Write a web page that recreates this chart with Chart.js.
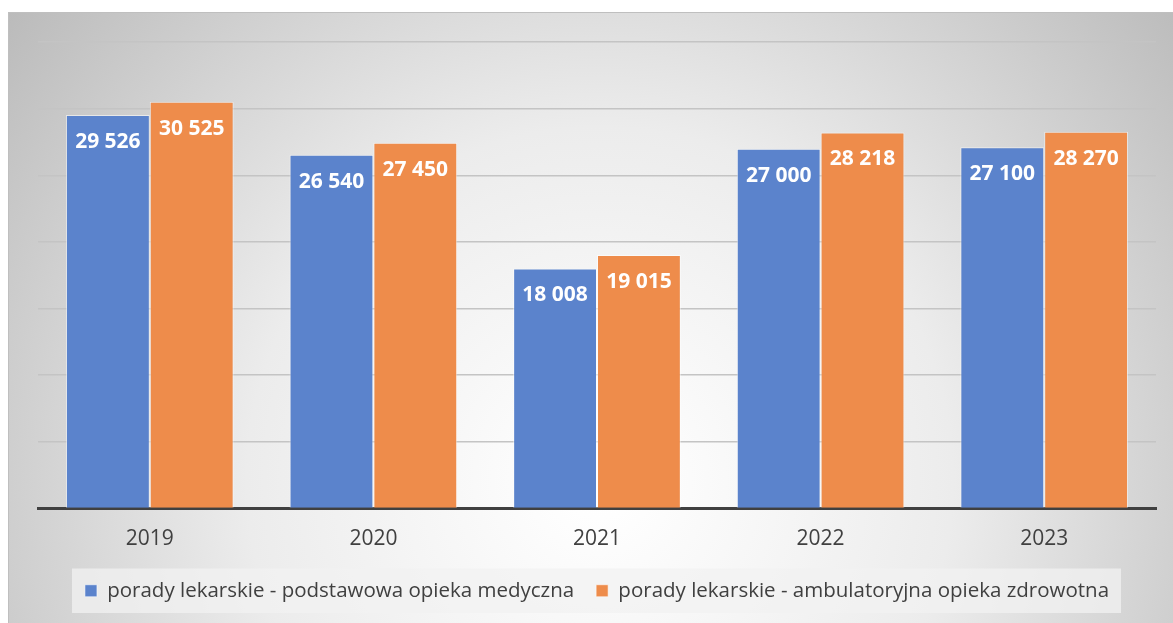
<!DOCTYPE html>
<html>
<head>
<meta charset="utf-8">
<script src="https://cdn.jsdelivr.net/npm/chart.js@4"></script>
<style>
  html, body { margin: 0; padding: 0; background: #fff; }
  #wrap { width: 1173px; height: 623px; }
</style>
</head>
<body>
<div id="wrap"><canvas id="chart"></canvas></div>
<script>
const years = ["2019", "2020", "2021", "2022", "2023"];
const podstawowa = [29526, 26540, 18008, 27000, 27100];
const ambulatoryjna = [30525, 27450, 19015, 28218, 28270];
const seriesNames = [
    "porady lekarskie - podstawowa opieka medyczna",
    "porady lekarskie - ambulatoryjna opieka zdrowotna"
];

const fmt = v => String(v).replace(/\B(?=(\d{3})+(?!\d))/g, " ");

// gray radial background + legend panel
const backdrop = {
    id: "backdrop",
    beforeDraw(chart) {
        const ctx = chart.ctx;
        const w = chart.width, h = chart.height;
        ctx.save();
        ctx.fillStyle = "#ffffff";
        ctx.fillRect(0, 0, w, h);
        const g = ctx.createRadialGradient(600, 480, 20, 600, 480, 760);
        g.addColorStop(0, "#ffffff");
        g.addColorStop(0.45, "#ececec");
        g.addColorStop(1, "#bababa");
        ctx.fillStyle = g;
        ctx.fillRect(8, 12, w - 8, h - 12);
        ctx.strokeStyle = "#bfbfbf";
        ctx.lineWidth = 1;
        ctx.strokeRect(8.5, 12.5, w, h);

        const boxes = chart.legend && chart.legend.legendHitBoxes;
        if (boxes && boxes.length) {
            const l = Math.min(...boxes.map(b => b.left)) - 13;
            const r = Math.max(...boxes.map(b => b.left + b.width)) + 12;
            const t = Math.min(...boxes.map(b => b.top)) - 12;
            const bt = Math.max(...boxes.map(b => b.top + b.height)) + 12;
            ctx.fillStyle = "rgba(242,242,242,0.75)";
            ctx.fillRect(l, t, r - l, bt - t);
        }
        ctx.restore();
    }
};

const valueLabels = {
    id: "valueLabels",
    afterDatasetsDraw(chart) {
        const ctx = chart.ctx;
        ctx.save();
        ctx.fillStyle = "#ffffff";
        ctx.font = "bold 21px 'Open Sans'";
        ctx.textAlign = "center";
        ctx.textBaseline = "middle";
        chart.data.datasets.forEach((ds, i) => {
            chart.getDatasetMeta(i).data.forEach((bar, j) => {
                ctx.fillText(fmt(ds.data[j]), bar.x, bar.y + 27);
            });
        });
        ctx.restore();
    }
};

new Chart("chart", {
    type: "bar",
    data: {
        labels: years,
        datasets: [{
            label: seriesNames[0],
            data: podstawowa,
            backgroundColor: "#5b83cc",
            borderColor: "rgba(255,255,255,0.55)",
            borderWidth: 1
        }, {
            label: seriesNames[1],
            data: ambulatoryjna,
            backgroundColor: "#ee8c4b",
            borderColor: "rgba(255,255,255,0.55)",
            borderWidth: 1
        }]
    },
    options: {
        responsive: true,
        maintainAspectRatio: false,
        animation: false,
        layout: { padding: { left: 38, right: 17, top: 42, bottom: 12 } },
        datasets: { bar: { categoryPercentage: 0.75, barPercentage: 1 } },
        scales: {
            x: {
                grid: { display: false },
                border: { color: "#404040", width: 3 },
                ticks: { color: "#404040", font: { family: "'Open Sans'", size: 21 }, padding: 10 },
                afterFit(scale) { scale.height = 50; }
            },
            y: {
                min: 0,
                max: 35000,
                ticks: { display: false, stepSize: 5000 },
                border: { display: false },
                grid: { color: "#c4c4c4", lineWidth: 1.5, drawTicks: false },
                afterFit(scale) { scale.width = 0; }
            }
        },
        plugins: {
            legend: {
                position: "bottom",
                labels: {
                    color: "#404040",
                    font: { family: "'Open Sans'", size: 20.5 },
                    boxWidth: 12,
                    boxHeight: 12,
                    padding: 22
                }
            },
            tooltip: { enabled: false }
        }
    },
    plugins: [backdrop, valueLabels]
});
</script>
</body>
</html>
